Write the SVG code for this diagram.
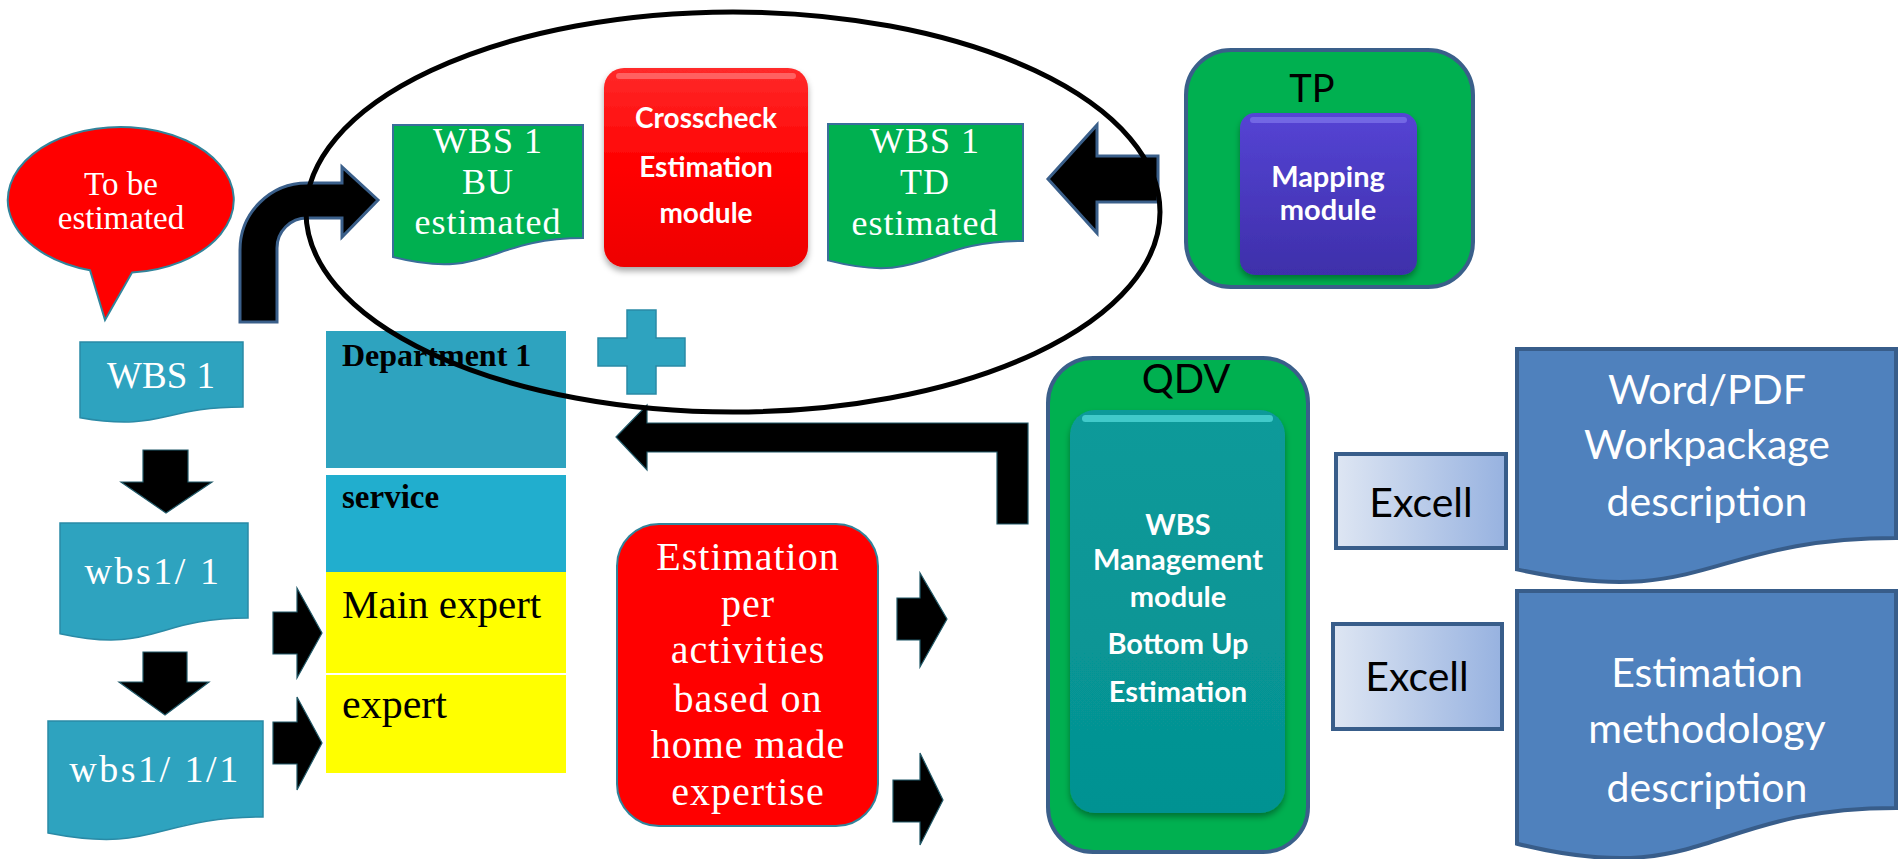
<svg xmlns="http://www.w3.org/2000/svg" width="1901" height="859" viewBox="0 0 1901 859">
<defs>
<style>
.serif{font-family:"Liberation Serif","Times New Roman",serif;}
.sans{font-family:Lato,"Liberation Sans",Arial,sans-serif;}
.wt{fill:#ffffff;}
.bk{fill:#000000;}
.teal{fill:#2EA3BF;stroke:#2A8AA6;stroke-width:1.5;}
.green{fill:#00B050;stroke:#3A6E9A;stroke-width:2;}
.blue{fill:#4F81BD;stroke:#385D8A;stroke-width:4;}
.arr{fill:#000000;stroke:#215968;stroke-width:1.2;}
.arrb{fill:#000000;stroke:#3A5F8A;stroke-width:3;}
.cont{fill:#00B050;stroke:#3A5F8A;stroke-width:4;}
.xl{fill:url(#gx);stroke:#385D8A;stroke-width:4;}
</style>
<linearGradient id="gx" x1="0" y1="0" x2="1" y2="0">
<stop offset="0" stop-color="#DEE6F3"/>
<stop offset="1" stop-color="#97B2E0"/>
</linearGradient>
<linearGradient id="gred" x1="0" y1="0" x2="0" y2="1">
<stop offset="0" stop-color="#FF2A2A"/>
<stop offset="0.5" stop-color="#FF0000"/>
<stop offset="1" stop-color="#EE0000"/>
</linearGradient>
<linearGradient id="gpur" x1="0" y1="0" x2="0" y2="1">
<stop offset="0" stop-color="#5544D4"/>
<stop offset="1" stop-color="#3E2FAA"/>
</linearGradient>
<linearGradient id="gtea" x1="0" y1="0" x2="0" y2="1">
<stop offset="0" stop-color="#0A9A9A"/>
<stop offset="1" stop-color="#059292"/>
</linearGradient>
<filter id="sh" x="-10%" y="-10%" width="120%" height="125%">
<feDropShadow dx="0" dy="4" stdDeviation="3" flood-color="#000" flood-opacity="0.35"/>
</filter>
</defs>
<rect width="1901" height="859" fill="#ffffff"/>

<g id="bubble">
<path d="M90,270.2 A113,73 0 1 1 132,272.6 L105,320 Z" fill="#FF0000" stroke="#31849B" stroke-width="2"/>
<text class="serif wt" font-size="33" text-anchor="middle"><tspan x="121" y="195">To be</tspan><tspan x="121" y="229">estimated</tspan></text>
</g>

<g id="wbs1">
<path class="teal" d="M80,342 H243 V407 C161.5,407 161.5,431.7 80,417.7 Z"/>
<text class="serif wt" x="161" y="388" font-size="37" text-anchor="middle">WBS 1</text>
</g>
<g id="wbs1-1">
<path class="teal" d="M60,523 H248 V618 C154,618 154,654.2 60,633.7 Z"/>
<text class="serif wt" x="153" y="584" font-size="38" letter-spacing="2.5" text-anchor="middle">wbs1/ 1</text>
</g>
<g id="wbs1-1-1">
<path class="teal" d="M48,721 H263 V817 C155.5,817 155.5,854 48,833 Z"/>
<text class="serif wt" x="155" y="782" font-size="38" letter-spacing="2.5" text-anchor="middle">wbs1/ 1/1</text>
</g>

<g id="department">
<rect x="326" y="331" width="240" height="137" fill="#2EA3BF"/>
<text class="serif bk" x="342" y="366" font-size="32" font-weight="bold">Department 1</text>
</g>
<g id="service">
<rect x="326" y="475" width="240" height="97" fill="#21AECE"/>
<text class="serif bk" x="342" y="508" font-size="33" font-weight="bold">service</text>
</g>
<g id="main-expert">
<rect x="326" y="572" width="240" height="101" fill="#FFFF00"/>
<text class="serif bk" x="342" y="618" font-size="41">Main expert</text>
</g>
<g id="expert">
<rect x="326" y="675" width="240" height="98" fill="#FFFF00"/>
<text class="serif bk" x="342" y="718" font-size="42">expert</text>
</g>

<g id="plus">
<path class="teal" d="M627,310 H656 V338 H685 V366 H656 V394 H627 V366 H598 V338 H627 Z"/>
</g>

<g id="wbs1-bu">
<path class="green" d="M393,125 H583 V238 C488,238 488,281 393,257 Z"/>
<text class="serif wt" font-size="36" letter-spacing="1" text-anchor="middle"><tspan x="488" y="153">WBS 1</tspan><tspan x="488" y="194">BU</tspan><tspan x="488" y="234">estimated</tspan></text>
</g>
<g id="crosscheck">
<rect x="604" y="68" width="204" height="199" rx="20" fill="url(#gred)" filter="url(#sh)"/>
<rect x="616" y="73" width="180" height="6" rx="3" fill="#FF7A7A" opacity="0.7"/>
<text class="sans wt" font-size="28" font-weight="bold" text-anchor="middle"><tspan x="706" y="128">Crosscheck</tspan><tspan x="706" y="177">Estimation</tspan><tspan x="706" y="223">module</tspan></text>
</g>
<g id="wbs1-td">
<path class="green" d="M828,124 H1023 V241 C925.5,241 925.5,285.7 828,260.4 Z"/>
<text class="serif wt" font-size="36" letter-spacing="1" text-anchor="middle"><tspan x="925" y="153">WBS 1</tspan><tspan x="925" y="194">TD</tspan><tspan x="925" y="235">estimated</tspan></text>
</g>

<g id="tp">
<rect class="cont" x="1186" y="50" width="287" height="237" rx="45"/>
<text class="sans bk" x="1312" y="102" font-size="38" text-anchor="middle">TP</text>
</g>
<g id="mapping">
<rect x="1240" y="113" width="177" height="162" rx="15" fill="url(#gpur)" filter="url(#sh)"/>
<rect x="1250" y="117" width="157" height="6" rx="3" fill="#7A70E8" opacity="0.8"/>
<text class="sans wt" font-size="29" font-weight="bold" text-anchor="middle"><tspan x="1328" y="187">Mapping</tspan><tspan x="1328" y="220">module</tspan></text>
</g>

<g id="estimation">
<rect x="617" y="524" width="261" height="302" rx="42" fill="#FF0000" stroke="#31849B" stroke-width="2"/>
<text class="serif wt" font-size="40" letter-spacing="1" text-anchor="middle"><tspan x="748" y="570">Estimation</tspan><tspan x="748" y="617">per</tspan><tspan x="748" y="663">activities</tspan><tspan x="748" y="712">based on</tspan><tspan x="748" y="758">home made</tspan><tspan x="748" y="805">expertise</tspan></text>
</g>

<g id="qdv">
<rect class="cont" x="1048" y="358" width="260" height="494" rx="45"/>
<text class="sans bk" x="1186" y="393" font-size="40" text-anchor="middle">QDV</text>
</g>
<g id="wbs-management">
<rect x="1070" y="410" width="215" height="403" rx="25" fill="url(#gtea)" filter="url(#sh)"/>
<rect x="1082" y="415" width="191" height="7" rx="3.5" fill="#4FD6D6" opacity="0.8"/>
<text class="sans wt" font-size="29" font-weight="bold" text-anchor="middle"><tspan x="1178" y="535">WBS</tspan><tspan x="1178" y="570">Management</tspan><tspan x="1178" y="607">module</tspan><tspan x="1178" y="654">Bottom Up</tspan><tspan x="1178" y="702">Estimation</tspan></text>
</g>

<g id="excell-1">
<rect class="xl" x="1336" y="454" width="170" height="94"/>
<text class="sans bk" x="1421" y="517" font-size="41" text-anchor="middle">Excell</text>
</g>
<g id="excell-2">
<rect class="xl" x="1333" y="624" width="169" height="105"/>
<text class="sans bk" x="1417" y="691" font-size="41" text-anchor="middle">Excell</text>
</g>
<g id="doc-workpackage">
<path class="blue" d="M1517,349 H1896 V538 C1706.5,538 1706.5,610.4 1517,569.4 Z"/>
<text class="sans wt" font-size="41" text-anchor="middle"><tspan x="1707" y="404">Word/PDF</tspan><tspan x="1707" y="459">Workpackage</tspan><tspan x="1707" y="516">description</tspan></text>
</g>
<g id="doc-methodology">
<path class="blue" d="M1517,591 H1896 V808 C1706.5,808 1706.5,890.7 1517,843.7 Z"/>
<text class="sans wt" font-size="41" text-anchor="middle"><tspan x="1707" y="687">Estimation</tspan><tspan x="1707" y="743">methodology</tspan><tspan x="1707" y="802">description</tspan></text>
</g>

<g id="connectors">
<polygon class="arr" points="143,450 188,450 188,482 212,482 166,513 121,482 143,482"/>
<polygon class="arr" points="143,652 187,652 187,682 209,682 165,715 119,682 143,682"/>
<polygon class="arr" points="273,612 297,612 297,588 322,633 297,678 297,654 273,654"/>
<polygon class="arr" points="273,722 297,722 297,697 322,743 297,790 297,764 273,764"/>
<polygon class="arr" points="897,598 920,598 920,573 947,619 920,667 920,640 897,640"/>
<polygon class="arr" points="893,780 920,780 920,753 943,800 920,845 920,822 893,822"/>
<polygon class="arr" points="616,437 647,405 647,423 1028,423 1028,524 997,524 997,452 647,452 647,470"/>
<path class="arrb" d="M240,322 L240,250 A67,67 0 0 1 307,183 L342,183 L342,167 L378,200 L342,237 L342,218 L307,218 A30,30 0 0 0 277,248 L277,322 Z"/>
<polygon class="arrb" points="1048,179 1097,125 1097,156 1158,156 1158,202 1097,202 1097,233"/>
</g>

<ellipse cx="733" cy="212" rx="427" ry="200" fill="none" stroke="#000000" stroke-width="5"/>
</svg>
